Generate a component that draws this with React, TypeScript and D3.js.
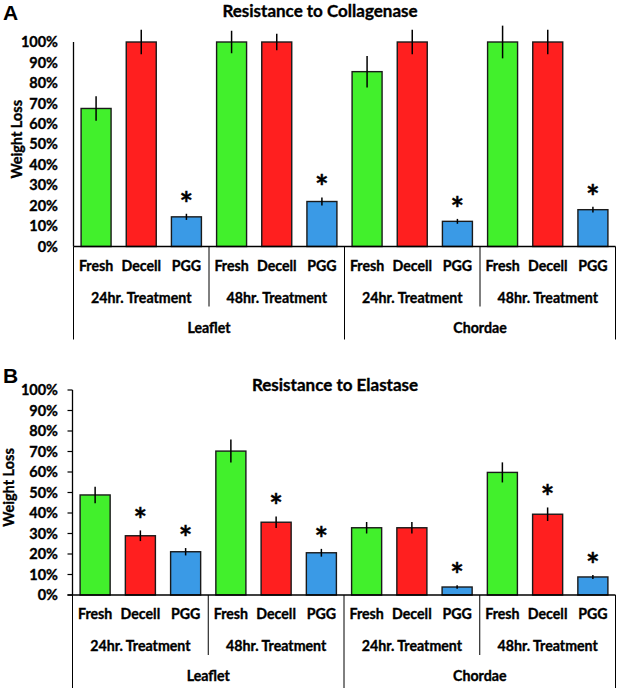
import React from "react";
import * as d3 from "d3";

const categories = ["Fresh", "Decell", "PGG"];
const treatments = ["24hr. Treatment", "48hr. Treatment"];
const tissues = ["Leaflet", "Chordae"];
const yTicks = [0, 10, 20, 30, 40, 50, 60, 70, 80, 90, 100];

const collagenaseValues = [67.5, 100, 14.5, 100, 100, 22, 85.5, 100, 12.3, 100, 100, 18];
const collagenaseErrors = [6, 6, 1.5, 5.5, 4, 2, 7.7, 6, 1.2, 8, 6, 1.4];
const collagenaseSignif = [0, 0, 1, 0, 0, 1, 0, 0, 1, 0, 0, 1];

const elastaseValues = [48.8, 28.9, 21.1, 70.2, 35.5, 20.6, 32.8, 32.8, 3.9, 59.8, 39.4, 8.8];
const elastaseErrors = [4, 2.6, 1.8, 5.6, 2.8, 1.9, 2.8, 2.8, 0.8, 4.9, 3.3, 1];
const elastaseSignif = [0, 1, 1, 0, 1, 1, 0, 0, 1, 0, 1, 1];

const colors = ["#42f02c", "#ff1f1f", "#3a9ae6"];
const FONT = "Lato, 'Open Sans', sans-serif";

type PanelProps = {
  letter: string;
  letterY: number;
  title: string;
  titleX: number;
  titleY: number;
  values: number[];
  errors: number[];
  signif: number[];
  axisX: number;
  y0: number;
  y100: number;
  ticksOut: boolean;
  ylabX: number;
};

function Panel(p: PanelProps) {
  const keys: string[] = [];
  tissues.forEach((ts) =>
    treatments.forEach((tr) => categories.forEach((c) => keys.push(`${ts}|${tr}|${c}`)))
  );
  const right = 615.5;
  const x = d3.scaleBand<string>().domain(keys).range([p.axisX, right]).paddingInner(0.336).paddingOuter(0.168);
  const y = d3.scaleLinear().domain([0, 100]).range([p.y0, p.y100]);
  const step = x.step();
  const bw = x.bandwidth();
  const boundary = (i: number) => (i >= keys.length ? right : (x(keys[i]) as number) - (step - bw) / 2);
  const ts = { stroke: "#000", strokeWidth: 0.35 };

  return (
    <g fontFamily={FONT} fontWeight="bold">
      <text x={3} y={p.letterY} fontFamily="Liberation Sans, Arial, sans-serif" fontSize={21} fontWeight="bold">
        {p.letter}
      </text>
      <text x={p.titleX} y={p.titleY} textAnchor="middle" fontSize={17} {...ts}>
        {p.title}
      </text>
      {/* y axis */}
      <line x1={p.axisX} x2={p.axisX} y1={y(100)} y2={y(0)} stroke="#000" strokeWidth={1.3} />
      {yTicks.map((t) => (
        <g key={t}>
          {p.ticksOut && (
            <line x1={p.axisX - 5} x2={p.axisX} y1={y(t)} y2={y(t)} stroke="#000" strokeWidth={1.2} />
          )}
          <text x={58} y={y(t)} dy="0.36em" textAnchor="end" fontSize={14.5} {...ts}>
            {t}%
          </text>
        </g>
      ))}
      <text
        transform={`translate(${p.ylabX},${(y(0) + y(100)) / 2 - 5}) rotate(-90)`}
        textAnchor="middle"
        fontSize={14.5}
        {...ts}
      >
        Weight Loss
      </text>
      {/* bars */}
      {keys.map((k, i) => {
        const bx = x(k) as number;
        const v = p.values[i];
        const e = p.errors[i];
        const cx = bx + bw / 2;
        return (
          <g key={k}>
            <rect
              x={bx}
              y={y(v)}
              width={bw}
              height={y(0) - y(v)}
              fill={colors[i % 3]}
              stroke="#1a1a1a"
              strokeWidth={1.4}
            />
            <line x1={cx} x2={cx} y1={y(v + e)} y2={y(v - e)} stroke="#000" strokeWidth={1.5} />
            {p.signif[i] ? (
              <text x={cx} y={y(v + e) + 2} textAnchor="middle" fontSize={32} {...ts}>
                *
              </text>
            ) : null}
          </g>
        );
      })}
      {/* x axis */}
      <line x1={p.ticksOut ? p.axisX - 5 : p.axisX} x2={right} y1={y(0)} y2={y(0)} stroke="#000" strokeWidth={1.3} />
      {keys.map((k, i) => (
        <text key={"l" + k} x={(x(k) as number) + bw / 2} y={y(0) + 24} textAnchor="middle" fontSize={14.2} {...ts}>
          {categories[i % 3]}
        </text>
      ))}
      {[0, 1, 2, 3].map((g) => (
        <text
          key={"t" + g}
          x={(boundary(g * 3) + boundary(g * 3 + 3)) / 2}
          y={y(0) + 56}
          textAnchor="middle"
          fontSize={14.2}
          {...ts}
        >
          {treatments[g % 2]}
        </text>
      ))}
      {[0, 1].map((g) => (
        <text
          key={"s" + g}
          x={(boundary(g * 6) + boundary(g * 6 + 6)) / 2}
          y={y(0) + 86}
          textAnchor="middle"
          fontSize={14.2}
          {...ts}
        >
          {tissues[g]}
        </text>
      ))}
      {[0, 1, 2, 3, 4].map((g) => {
        const bxp = boundary(g * 3);
        const outer = g % 2 === 0;
        return (
          <line
            key={"d" + g}
            x1={bxp}
            x2={bxp}
            y1={y(0)}
            y2={y(0) + (outer ? 93 : 60)}
            stroke="#000"
            strokeWidth={1}
          />
        );
      })}
    </g>
  );
}

export default function App() {
  return (
    <svg
      width={619}
      height={688}
      style={{ position: "absolute", left: 0, top: 0, background: "#fff" }}
    >
      <rect width={619} height={688} fill="#fff" />
      <Panel
        letter="A"
        letterY={20}
        title="Resistance to Collagenase"
        titleX={320}
        titleY={17}
        values={collagenaseValues}
        errors={collagenaseErrors}
        signif={collagenaseSignif}
        axisX={73.5}
        y0={246.5}
        y100={42}
        ticksOut={false}
        ylabX={22}
      />
      <Panel
        letter="B"
        letterY={383}
        title="Resistance to Elastase"
        titleX={335}
        titleY={391}
        values={elastaseValues}
        errors={elastaseErrors}
        signif={elastaseSignif}
        axisX={72.5}
        y0={595}
        y100={390}
        ticksOut={true}
        ylabX={14}
      />
    </svg>
  );
}
